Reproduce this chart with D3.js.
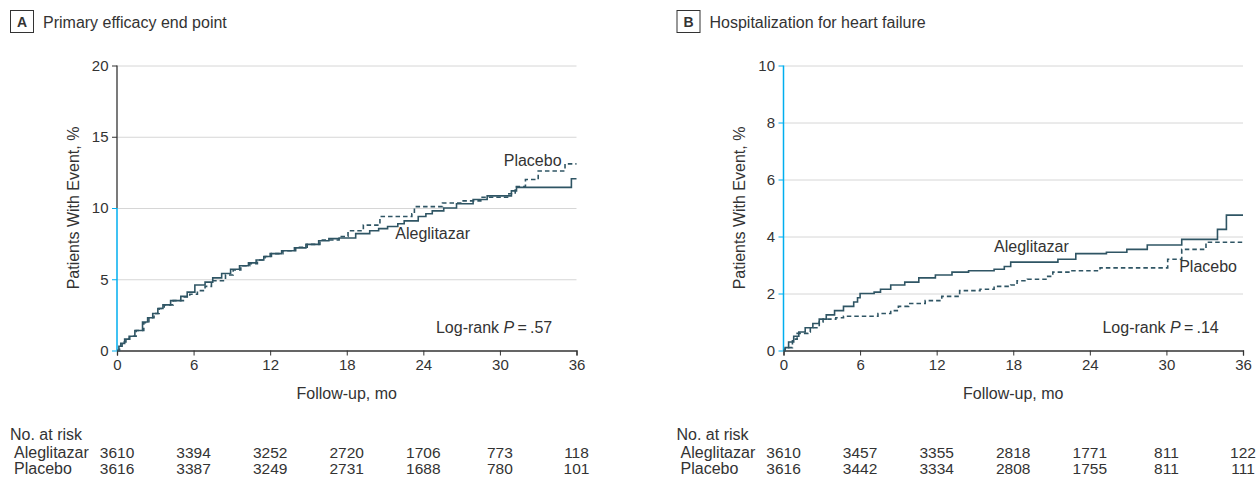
<!DOCTYPE html>
<html>
<head>
<meta charset="utf-8">
<script src="https://cdn.jsdelivr.net/npm/d3@7"></script>
<style>
  body { margin: 0; background: #fff; }
  svg text { font-family: "Liberation Sans", Arial, sans-serif; fill: #333; }
</style>
</head>
<body>
<div class="chart"></div>
<script>
// months on the x axis, same for both panels
const monthTicks = [0, 6, 12, 18, 24, 30, 36];
const groups = ['Aleglitazar', 'Placebo'];

// panel A: primary efficacy end point, [month, % with event]
const aleglitazarA = [[0,0],[0.15,0.3],[0.3,0.5],[0.6,0.8],[0.95,1.0],[1.4,1.4],[2.0,2.0],[2.4,2.3],[2.8,2.6],[3.2,2.95],[3.6,3.2],[4.2,3.5],[5.0,3.8],[5.5,4.1],[6.1,4.6],[6.9,4.8],[7.5,5.1],[8.2,5.4],[8.9,5.7],[9.6,5.95],[10.3,6.15],[10.9,6.35],[11.5,6.6],[12.0,6.8],[12.9,7.0],[13.9,7.2],[14.8,7.45],[15.8,7.7],[16.6,7.85],[17.4,7.9],[18.7,8.2],[19.8,8.4],[20.5,8.55],[21.2,8.7],[22.0,8.9],[22.5,9.1],[23.6,9.4],[24.2,9.6],[24.7,9.8],[25.6,10.0],[26.6,10.3],[27.9,10.6],[29.0,10.85],[30.9,11.2],[31.3,11.45],[35.6,12.05],[36,12.05]];
const placeboA = [[0,0],[0.2,0.3],[0.4,0.6],[0.7,0.8],[1.0,1.0],[1.5,1.4],[2.1,1.95],[2.5,2.3],[2.9,2.6],[3.3,2.95],[3.7,3.2],[4.4,3.5],[5.2,3.75],[5.7,3.95],[6.3,4.2],[6.9,4.5],[7.4,4.9],[8.5,5.3],[9.1,5.65],[9.7,5.95],[10.4,6.1],[11.0,6.35],[11.6,6.6],[12.1,6.8],[13.0,7.0],[14.0,7.25],[14.9,7.45],[15.9,7.75],[17.4,8.0],[18.1,8.4],[19.3,8.8],[20.6,9.4],[23.1,9.6],[23.3,10.1],[25.5,10.35],[27.0,10.5],[28.5,10.75],[30.7,11.0],[31.2,11.5],[32.0,12.0],[33.0,12.6],[35.1,13.1],[36,13.1]];

// panel B: hospitalization for heart failure, [month, % with event]
const aleglitazarB = [[0,0],[0.13,0.1],[0.4,0.3],[0.8,0.5],[1.2,0.65],[1.7,0.8],[2.3,0.95],[2.8,1.1],[3.35,1.25],[4.0,1.4],[4.7,1.55],[5.5,1.7],[5.8,1.85],[6.0,2.0],[7.1,2.05],[7.6,2.15],[8.4,2.3],[9.5,2.4],[10.6,2.55],[11.9,2.65],[13.2,2.75],[14.5,2.8],[16.5,2.85],[17.3,2.95],[17.8,3.1],[21.5,3.2],[22.9,3.4],[25.3,3.45],[26.9,3.55],[28.5,3.7],[31.2,3.9],[34.0,4.25],[34.7,4.75],[36,4.75]];
const placeboB = [[0,0],[0.13,0.1],[0.7,0.4],[1.07,0.6],[1.9,0.65],[2.1,0.8],[2.8,1.0],[3.1,1.1],[4.1,1.15],[4.7,1.2],[7.4,1.3],[8.4,1.4],[9.0,1.55],[9.8,1.65],[11.1,1.75],[12.4,1.9],[13.8,2.1],[15.4,2.15],[16.5,2.25],[17.8,2.3],[18.3,2.45],[19.1,2.5],[20.7,2.6],[21.1,2.75],[22.6,2.8],[24.8,2.9],[30.1,3.2],[31.2,3.55],[33.1,3.8],[36,3.8]];

// numbers at risk
const riskAleglitazarA = [3610, 3394, 3252, 2720, 1706, 773, 118];
const riskPlaceboA = [3616, 3387, 3249, 2731, 1688, 780, 101];
const riskAleglitazarB = [3610, 3457, 3355, 2818, 1771, 811, 122];
const riskPlaceboB = [3616, 3442, 3334, 2808, 1755, 811, 111];

const width = 1256, height = 481;
const blue = '#00aeef', ink = '#2f5564', dark = '#333';

const svg = d3.select('.chart').append('svg')
    .attr('width', width)
    .attr('height', height);

function drawPanel(p) {
    const g = svg.append('g').attr('transform', `translate(${p.left},0)`);
    const x = d3.scaleLinear().domain([0, 36]).range([0, 459.5]);
    const y = d3.scaleLinear().domain([0, p.ymax]).range([350.5, 65.5]);

    // letter box + title
    g.append('rect').attr('x', -106.5).attr('y', 10.5).attr('width', 23).attr('height', 22)
        .attr('fill', 'none').attr('stroke', dark).attr('stroke-width', 1);
    g.append('text').attr('x', -95).attr('y', 27).attr('text-anchor', 'middle')
        .style('font-size', '14px').style('font-weight', 'bold').text(p.letter);
    g.append('text').attr('x', -74).attr('y', 28).style('font-size', '16px').text(p.title);

    // grid lines
    g.selectAll('.grid').data(p.yticks.filter(d => d > 0)).join('line')
        .attr('x1', 0).attr('x2', x(36))
        .attr('y1', d => y(d) + 0.5).attr('y2', d => y(d) + 0.5)
        .attr('stroke', '#d6d6d6').attr('stroke-width', 1);

    // x axis
    const xAxis = g.append('g').attr('transform', 'translate(0,350.5)')
        .call(d3.axisBottom(x).tickValues(monthTicks).tickSize(5).tickPadding(4));
    xAxis.select('.domain').attr('stroke', dark).attr('stroke-width', 1.3);
    xAxis.selectAll('.tick line').attr('stroke', dark);
    xAxis.selectAll('.tick text').style('font-size', '15px').attr('fill', dark);

    // y axis, blue up to the cut value
    const yAxis = g.append('g')
        .call(d3.axisLeft(y).tickValues(p.yticks).tickSize(5).tickPadding(3.5));
    yAxis.select('.domain').remove();
    yAxis.selectAll('.tick line').attr('stroke', d => d <= p.blueTo ? blue : dark);
    yAxis.selectAll('.tick text').style('font-size', '15px').attr('fill', dark);
    g.append('line').attr('x1', 0).attr('x2', 0).attr('y1', y(0)).attr('y2', y(p.blueTo))
        .attr('stroke', blue).attr('stroke-width', 1.5);
    if (p.blueTo < p.ymax) {
        g.append('line').attr('x1', 0).attr('x2', 0).attr('y1', y(p.blueTo)).attr('y2', y(p.ymax))
            .attr('stroke', dark).attr('stroke-width', 1.3);
    }

    g.append('text')
        .attr('transform', `translate(-38.5,${(y(0) + y(p.ymax)) / 2}) rotate(-90)`)
        .attr('text-anchor', 'middle').style('font-size', '16px')
        .text('Patients With Event, %');
    g.append('text').attr('x', x(18)).attr('y', 399).attr('text-anchor', 'middle')
        .style('font-size', '16px').text('Follow-up, mo');

    // curves
    const line = d3.line().x(d => x(d[0])).y(d => y(d[1])).curve(d3.curveStepAfter);
    g.append('path').datum(p.placebo).attr('d', line)
        .attr('fill', 'none').attr('stroke', ink).attr('stroke-width', 1.6)
        .attr('stroke-dasharray', '4.5,3');
    g.append('path').datum(p.aleglitazar).attr('d', line)
        .attr('fill', 'none').attr('stroke', ink).attr('stroke-width', 1.6);

    // curve labels
    p.labels.forEach(l => {
        g.append('text').attr('x', x(l.m)).attr('y', y(l.v)).attr('dy', '0.35em')
            .style('font-size', '16px').text(l.text);
    });

    const lr = g.append('text').attr('x', x(34.1)).attr('y', 332.5)
        .attr('text-anchor', 'end').style('font-size', '16px');
    lr.append('tspan').text('Log-rank ');
    lr.append('tspan').style('font-style', 'italic').text('P');
    lr.append('tspan').text('\u2009=\u2009' + p.pval);

    // numbers at risk
    g.append('text').attr('x', -107).attr('y', 440).style('font-size', '16px').text('No. at risk');
    const rows = [p.riskAleglitazar, p.riskPlacebo];
    rows.forEach((row, i) => {
        const rowY = 458 + i * 16;
        g.append('text').attr('x', -103).attr('y', rowY).style('font-size', '16px').text(groups[i]);
        g.selectAll('.risk' + i).data(row).join('text')
            .attr('x', (d, j) => x(monthTicks[j]))
            .attr('y', rowY)
            .attr('text-anchor', 'middle')
            .style('font-size', '15.5px')
            .text(d => d);
    });
}

drawPanel({
    left: 117, letter: 'A', title: 'Primary efficacy end point',
    ymax: 20, yticks: [0, 5, 10, 15, 20], blueTo: 10,
    aleglitazar: aleglitazarA, placebo: placeboA, pval: '.57',
    labels: [{text: 'Placebo', m: 30.3, v: 13.36}, {text: 'Aleglitazar', m: 21.8, v: 8.2}],
    riskAleglitazar: riskAleglitazarA, riskPlacebo: riskPlaceboA
});

drawPanel({
    left: 783.5, letter: 'B', title: 'Hospitalization for heart failure',
    ymax: 10, yticks: [0, 2, 4, 6, 8, 10], blueTo: 10,
    aleglitazar: aleglitazarB, placebo: placeboB, pval: '.14',
    labels: [{text: 'Aleglitazar', m: 16.5, v: 3.67}, {text: 'Placebo', m: 31.0, v: 2.94}],
    riskAleglitazar: riskAleglitazarB, riskPlacebo: riskPlaceboB
});
</script>
</body>
</html>
